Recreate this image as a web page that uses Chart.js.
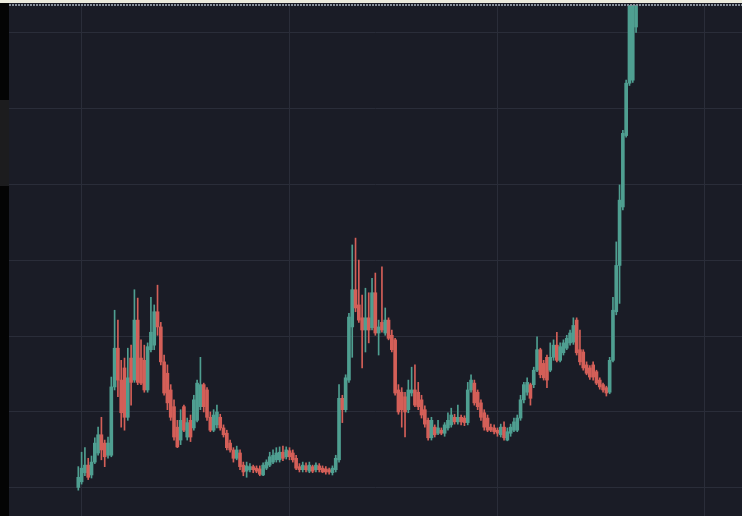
<!DOCTYPE html>
<html lang="en">
<head>
<meta charset="UTF-8">
<title>Candles</title>
<script src="https://cdn.jsdelivr.net/npm/chart.js"></script>
<style>
  html, body { margin: 0; padding: 0; background: #000; }
  #wrap { position: relative; width: 742px; height: 516px; overflow: hidden; background: #1a1c26; }
  #chart { position: absolute; left: 0; top: 0; }
  #strip { position: absolute; left: 0; top: 0; width: 9px; height: 516px; background: #040404; }
  #patch { position: absolute; left: 0; top: 100px; width: 9px; height: 86px; background: #1c1c1e; }
  #topband { position: absolute; left: 0; top: 0; width: 742px; height: 3px; background: #ecebdd; }
  #dots { position: absolute; left: 9px; right: 0; top: 4px; height: 2px;
          background: repeating-linear-gradient(90deg, #858d99 0 2px, transparent 2px 3px); }
</style>
</head>
<body>
<div id="wrap">
  <canvas id="chart" width="742" height="516"></canvas>
  <div id="strip"><div id="patch"></div></div>
  <div id="topband"></div>
  <div id="dots"></div>
</div>

<script>
// candle values, one entry per period (oldest first)
const open = [
  0, 0.8, 2.0, 3.0, 1.7, 3.4, 4.6, 7.0, 5.9, 4.3,
  4.3, 13.3, 18.4, 14.2, 15.8, 9.3, 17.1, 14.2, 22.1, 17.1,
  16.8, 12.9, 18.2, 18.8, 23.2, 21.2, 16.6, 15.1, 12.9, 10.7,
  8.0, 6.3, 10.7, 6.7, 8.9, 7.9, 8.9, 10.7, 13.6, 12.9,
  9.3, 7.6, 8.3, 9.3, 7.9, 7.2, 5.9, 5.0, 3.9, 4.6,
  3.0, 2.2, 2.4, 2.8, 2.6, 2.5, 1.7, 2.6, 3.0, 3.4,
  3.7, 3.7, 4.7, 4.1, 4.9, 4.6, 3.9, 2.8, 2.4, 2.9,
  2.2, 2.8, 2.4, 2.9, 2.6, 2.5, 2.4, 2.0, 2.4, 3.7,
  11.8, 10.3, 14.2, 21.2, 26.1, 24.1, 22.4, 20.8, 22.4, 21.1,
  25.7, 20.4, 21.8, 20.4, 22.1, 20.1, 19.5, 12.9, 12.6, 12.0,
  10.3, 12.5, 12.9, 12.6, 11.6, 10.3, 8.9, 6.6, 8.0, 7.2,
  7.6, 7.2, 7.9, 8.3, 9.3, 8.7, 9.3, 9.2, 8.6, 12.9,
  13.8, 12.6, 11.2, 9.9, 9.2, 8.0, 7.9, 7.6, 7.0, 8.0,
  6.3, 7.2, 7.6, 7.6, 9.2, 11.6, 12.6, 13.6, 13.6, 15.5,
  18.2, 16.4, 17.2, 15.5, 17.2, 18.8, 16.8, 17.8, 18.4, 19.1,
  19.2, 22.1, 18.2, 17.9, 16.2, 15.8, 16.2, 15.3, 14.2, 13.6,
  13.2, 12.6, 16.8, 23.2, 29.3, 37.0, 46.4, 53.3, 53.7, 60.7
];
const high = [
  2.8, 4.7, 5.3, 3.9, 4.2, 6.6, 8.0, 9.3, 6.3, 6.7,
  14.6, 23.4, 22.1, 16.8, 17.1, 18.4, 18.8, 26.1, 25.0, 19.5,
  18.8, 19.1, 25.1, 24.1, 26.7, 21.8, 17.5, 16.2, 13.6, 11.6,
  8.9, 10.3, 10.9, 9.2, 9.6, 12.2, 14.2, 17.2, 13.8, 13.2,
  10.0, 10.3, 10.9, 9.7, 8.3, 7.6, 6.3, 5.3, 5.5, 5.0,
  3.4, 3.4, 3.2, 3.0, 2.9, 2.9, 3.3, 3.7, 4.7, 5.0,
  5.3, 5.4, 5.5, 5.4, 5.3, 5.0, 4.3, 3.2, 3.4, 3.3,
  3.4, 3.0, 3.3, 3.2, 2.9, 2.8, 2.6, 2.9, 4.3, 13.6,
  12.2, 14.9, 23.0, 32.0, 32.9, 30.0, 25.4, 26.3, 25.7, 27.6,
  28.3, 22.1, 29.1, 23.7, 22.4, 20.8, 19.7, 13.6, 13.2, 12.6,
  14.2, 15.9, 16.2, 13.9, 12.2, 10.8, 9.2, 9.3, 8.3, 8.9,
  7.9, 8.6, 9.9, 10.5, 9.7, 10.9, 9.6, 9.5, 13.9, 14.9,
  14.2, 12.9, 11.6, 10.3, 9.6, 8.4, 8.3, 7.9, 8.4, 8.7,
  7.9, 8.4, 9.2, 9.6, 12.2, 13.9, 14.5, 13.8, 15.9, 19.9,
  18.4, 16.8, 17.5, 19.1, 19.5, 20.5, 19.1, 19.5, 20.1, 20.8,
  22.4, 22.4, 20.8, 18.2, 16.6, 16.1, 16.6, 15.5, 14.5, 13.8,
  13.4, 17.2, 25.1, 32.4, 39.9, 47.1, 53.7, 68.0, 71.0, 72.0
];
const low = [
  -0.3, 0.5, 1.6, 1.1, 1.3, 3.2, 4.3, 3.7, 2.8, 3.9,
  4.1, 12.9, 12.0, 8.0, 7.6, 8.9, 10.9, 13.9, 13.6, 13.6,
  12.6, 12.6, 17.9, 18.2, 20.1, 16.2, 12.2, 10.3, 8.9, 6.3,
  5.3, 5.7, 7.4, 6.3, 6.1, 7.6, 8.7, 10.3, 10.0, 8.9,
  7.4, 7.4, 7.9, 7.6, 6.7, 5.0, 4.7, 3.4, 3.7, 2.4,
  1.6, 1.4, 2.1, 2.0, 2.0, 1.6, 1.6, 2.4, 2.8, 3.2,
  3.4, 3.4, 3.6, 3.8, 3.7, 3.4, 2.4, 2.1, 2.1, 2.1,
  2.0, 2.0, 2.1, 2.1, 2.0, 1.8, 1.8, 1.7, 2.1, 3.4,
  8.6, 10.0, 13.9, 17.2, 23.2, 21.8, 15.8, 17.9, 19.1, 20.8,
  20.1, 17.5, 20.5, 20.1, 19.5, 17.9, 12.2, 9.7, 8.0, 6.7,
  9.9, 12.1, 10.7, 10.3, 9.2, 8.0, 6.3, 6.3, 6.7, 7.0,
  7.0, 6.8, 7.6, 8.0, 8.4, 8.4, 8.3, 8.2, 8.3, 12.6,
  10.9, 10.3, 8.9, 7.6, 7.4, 7.4, 7.1, 6.8, 6.7, 6.3,
  6.2, 6.8, 7.4, 7.4, 8.9, 11.2, 12.2, 10.9, 13.2, 15.3,
  14.5, 14.2, 13.2, 15.3, 16.8, 16.6, 16.6, 17.5, 18.2, 18.8,
  18.9, 17.5, 16.2, 15.5, 14.9, 14.3, 14.2, 13.6, 13.0, 12.6,
  12.1, 12.4, 16.6, 22.8, 24.3, 36.6, 46.2, 53.0, 53.4, 60.0
];
const close = [
  1.4, 2.6, 3.0, 1.4, 3.4, 5.9, 7.0, 5.0, 4.1, 5.9,
  13.3, 18.4, 14.2, 9.9, 9.3, 14.5, 13.9, 22.1, 13.9, 13.8,
  12.9, 18.6, 20.5, 23.2, 21.2, 16.6, 12.5, 11.2, 9.3, 6.7,
  5.4, 8.9, 7.6, 8.6, 6.7, 11.6, 13.8, 13.6, 10.7, 9.3,
  7.6, 9.6, 10.0, 7.9, 7.0, 5.3, 5.0, 3.9, 5.0, 2.8,
  2.1, 2.9, 2.8, 2.4, 2.2, 1.8, 3.0, 3.4, 4.1, 4.3,
  4.6, 4.7, 3.9, 5.0, 4.1, 3.7, 2.6, 2.4, 3.0, 2.4,
  3.0, 2.2, 3.0, 2.4, 2.1, 2.1, 2.1, 2.6, 3.9, 11.8,
  10.3, 14.5, 22.5, 26.1, 23.7, 22.1, 20.8, 22.4, 20.8, 25.7,
  20.4, 21.2, 20.8, 22.1, 19.7, 18.2, 12.5, 10.0, 10.3, 10.0,
  12.9, 12.9, 10.9, 10.7, 9.6, 8.4, 6.6, 8.9, 7.0, 7.9,
  7.2, 8.3, 8.9, 9.6, 8.7, 9.3, 8.7, 8.6, 12.9, 14.2,
  11.2, 10.7, 9.3, 8.0, 7.6, 7.6, 7.4, 7.2, 8.0, 6.6,
  7.4, 8.0, 8.7, 9.2, 11.6, 13.6, 13.9, 11.8, 15.5, 18.2,
  14.9, 14.5, 14.2, 17.2, 18.8, 16.8, 18.6, 19.1, 19.7, 20.4,
  21.4, 17.8, 16.6, 15.8, 15.1, 14.6, 14.6, 13.8, 13.3, 12.9,
  12.5, 16.8, 23.4, 29.3, 37.9, 46.7, 53.3, 66.8, 69.5, 70.0
];

// axis ranges and grid tick values
const xMin = -21.0, xMax = 201.1;
const xGrid = [1.1, 64.0, 126.9, 189.8];
const yMin = -3.7, yMax = 63.6;
const yGrid = [0, 10, 20, 30, 40, 50, 60];

const upColor = '#4f9f91';
const downColor = '#d45f58';
const gridColor = '#2a2d39';

const idx = open.map((_, i) => i);
const colors = idx.map(i => close[i] >= open[i] ? upColor : downColor);

new Chart(document.getElementById('chart'), {
  type: 'bar',
  data: {
    datasets: [
      {
        label: 'wick',
        data: idx.map(i => ({ x: i, y: [low[i], high[i]] })),
        backgroundColor: colors,
        barThickness: 1,
        grouped: false,
        order: 2
      },
      {
        label: 'body',
        data: idx.map(i => ({ x: i, y: [open[i], close[i]] })),
        backgroundColor: colors,
        barThickness: 3,
        minBarLength: 1,
        grouped: false,
        order: 1
      }
    ]
  },
  options: {
    responsive: false,
    animation: false,
    layout: { padding: { left: 9, top: 5, right: 0, bottom: 0 } },
    plugins: { legend: { display: false }, tooltip: { enabled: false } },
    scales: {
      x: {
        type: 'linear',
        min: xMin,
        max: xMax,
        offset: false,
        ticks: { display: false },
        border: { display: false },
        grid: { color: gridColor, drawTicks: false, offset: false },
        afterBuildTicks: s => { s.ticks = xGrid.map(v => ({ value: v })); }
      },
      y: {
        min: yMin,
        max: yMax,
        beginAtZero: false,
        ticks: { display: false },
        border: { display: false },
        grid: { color: gridColor, drawTicks: false },
        afterBuildTicks: s => { s.ticks = yGrid.map(v => ({ value: v })); }
      }
    }
  }
});
</script>
</body>
</html>
